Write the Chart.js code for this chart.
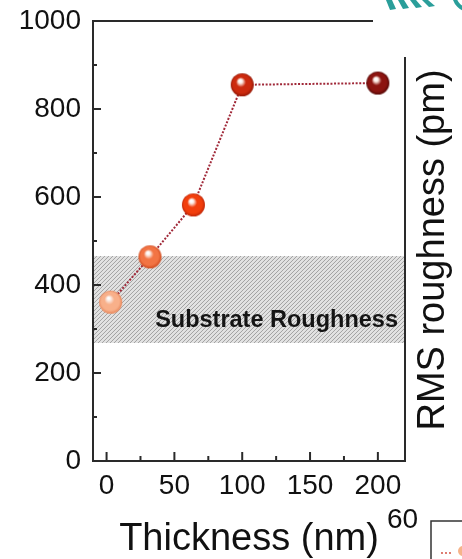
<!DOCTYPE html>
<html>
<head>
<meta charset="utf-8">
<script src="https://cdn.jsdelivr.net/npm/chart.js@4"></script>
<style>
  html, body { margin: 0; padding: 0; background: #fff; }
  #wrap { width: 462px; height: 559px; }
</style>
</head>
<body>
<div id="wrap"><canvas id="c" width="462" height="559"></canvas></div>
<script>
// ---- data ----
const thickness = [3, 32, 64, 100, 200];          // nm
const roughness = [361, 464, 582, 855, 859];      // pm
const xTicks = [0, 50, 100, 150, 200];
const xMinorTicks = [25, 75, 125, 175];
const yTicks = [0, 200, 400, 600, 800, 1000];
const yMinorTicks = [100, 300, 500, 700, 900];
const substrateBand = [268, 466];                  // pm
const bandLabel = 'Substrate Roughness';
const xTitle = 'Thickness (nm)';
const yTitle = 'RMS roughness (pm)';
const strayLabel = '60';

// ---- styles ----
const sphereColors = ['#f8b08a', '#f27444', '#f23e0c', '#cc2a0e', '#8c1410'];
const sphereDark   = ['#e8865a', '#d04a1e', '#c02606', '#941604', '#560806'];
const FONT = '"Liberation Sans", Arial, sans-serif';

function sphere(color, dark, r) {
  const s = Math.ceil(r * 2 + 2);
  const c = document.createElement('canvas');
  c.width = s; c.height = s;
  const g = c.getContext('2d');
  const cx = s / 2, cy = s / 2;
  const grad = g.createRadialGradient(cx - r * 0.18, cy - r * 0.35, r * 0.08, cx, cy, r);
  grad.addColorStop(0, '#ffffff');
  grad.addColorStop(0.12, '#fbe8e0');
  grad.addColorStop(0.38, color);
  grad.addColorStop(0.78, color);
  grad.addColorStop(1, dark);
  g.fillStyle = grad;
  g.beginPath(); g.arc(cx, cy, r, 0, Math.PI * 2); g.fill();
  return c;
}
const sphereImgs = sphereColors.map((c, i) => sphere(c, sphereDark[i], 11.5));

const decor = {
  id: 'decor',
  beforeDatasetsDraw(chart) {
    const { ctx, chartArea: a, scales: { x, y } } = chart;
    const top = y.getPixelForValue(substrateBand[1]);
    const bot = y.getPixelForValue(substrateBand[0]);
    ctx.save();
    ctx.beginPath();
    ctx.rect(a.left + 1, top, a.right - a.left - 1, bot - top);
    ctx.clip();
    ctx.fillStyle = '#e2e2e2';
    ctx.fillRect(a.left, top, a.right - a.left, bot - top);
    ctx.strokeStyle = '#a2a2a2';
    ctx.lineWidth = 1;
    const h = bot - top;
    for (let sx = a.left - h; sx < a.right + h; sx += 4) {
      ctx.beginPath();
      ctx.moveTo(sx, bot);
      ctx.lineTo(sx + h, top);
      ctx.stroke();
    }
    ctx.restore();
    // band label
    ctx.save();
    ctx.fillStyle = '#141414';
    ctx.font = 'bold 23.5px ' + FONT;
    ctx.textAlign = 'right';
    ctx.textBaseline = 'alphabetic';
    ctx.fillText(bandLabel, a.right - 7, y.getPixelForValue(305));
    ctx.restore();
  },
  afterDraw(chart) {
    const { ctx, chartArea: a, scales: { x, y } } = chart;
    ctx.save();
    ctx.strokeStyle = '#2a2a2a';
    ctx.lineWidth = 2;
    // top and right frame
    ctx.beginPath();
    ctx.moveTo(a.left, a.top); ctx.lineTo(a.right, a.top); ctx.lineTo(a.right, a.bottom);
    ctx.stroke();
    // inward ticks
    const tick = (x1, y1, x2, y2) => { ctx.beginPath(); ctx.moveTo(x1, y1); ctx.lineTo(x2, y2); ctx.stroke(); };
    xTicks.forEach(v => { const px = x.getPixelForValue(v); tick(px, a.bottom, px, a.bottom - 9); });
    xMinorTicks.forEach(v => { const px = x.getPixelForValue(v); tick(px, a.bottom, px, a.bottom - 5); });
    yTicks.forEach(v => { const py = y.getPixelForValue(v); tick(a.left, py, a.left + 8, py); });
    yMinorTicks.forEach(v => { const py = y.getPixelForValue(v); tick(a.left, py, a.left + 4, py); });
    // mask top-right corner (panel overlap)
    ctx.fillStyle = '#ffffff';
    ctx.fillRect(373, 0, 89, 57);
    // teal decoration
    ctx.fillStyle = '#2a9e9a';
    for (let i = 0; i < 4; i++) {
      const bx = 386 + i * 12;
      ctx.beginPath();
      ctx.moveTo(bx, 0); ctx.lineTo(bx + 6, 0); ctx.lineTo(bx + 10 + i, 9 - i); ctx.lineTo(bx + 4 + i, 10 - i);
      ctx.closePath(); ctx.fill();
    }
    ctx.beginPath();
    ctx.strokeStyle = '#2a9e9a'; ctx.lineWidth = 4;
    ctx.arc(470, -6, 16, Math.PI * 0.55, Math.PI * 0.95);
    ctx.stroke();
    // axis titles
    ctx.fillStyle = '#111';
    ctx.font = '38px ' + FONT;
    ctx.textAlign = 'center';
    ctx.textBaseline = 'alphabetic';
    ctx.fillText(xTitle, 249, 550);
    ctx.save();
    ctx.translate(444, 250);
    ctx.rotate(-Math.PI / 2);
    ctx.fillText(yTitle, 0, 0);
    ctx.restore();
    // stray label and neighbour panel
    ctx.font = '28px ' + FONT;
    ctx.textAlign = 'left';
    ctx.fillText(strayLabel, 387, 528);
    ctx.strokeStyle = '#333'; ctx.lineWidth = 1.5;
    ctx.beginPath(); ctx.moveTo(431, 565); ctx.lineTo(431, 521); ctx.lineTo(470, 521); ctx.stroke();
    ctx.fillStyle = '#d04030';
    [442, 446, 450].forEach(dx => { ctx.beginPath(); ctx.arc(dx, 553, 0.9, 0, Math.PI * 2); ctx.fill(); });
    ctx.fillStyle = '#f6b48a';
    ctx.beginPath(); ctx.arc(463, 551, 5, 0, Math.PI * 2); ctx.fill();
    ctx.restore();
  }
};

const zeroPad = s => { s.paddingTop = 0; s.paddingBottom = 0; s.paddingLeft = 0; s.paddingRight = 0; };
const tickFont = { family: FONT, size: 28 };
new Chart(document.getElementById('c'), {
  type: 'scatter',
  data: {
    datasets: [{
      data: thickness.map((t, i) => ({ x: t, y: roughness[i] })),
      showLine: true,
      borderColor: '#a02838',
      borderWidth: 2,
      borderDash: [2, 1.6],
      pointStyle: sphereImgs,
      pointRadius: 11.5,
      pointHoverRadius: 11.5,
      backgroundColor: sphereColors,
      tension: 0
    }]
  },
  options: {
    responsive: false,
    animation: false,
    devicePixelRatio: 1,
    events: [],
    layout: { padding: { top: 21, left: 0, right: 0, bottom: 0 } },
    plugins: { legend: { display: false }, tooltip: { enabled: false } },
    scales: {
      x: {
        type: 'linear', position: 'bottom', min: -10, max: 220,
        afterBuildTicks: s => { s.ticks = xTicks.map(v => ({ value: v })); },
        afterFit: s => { s.height = 98; zeroPad(s); },
        grid: { display: false, drawTicks: false },
        border: { display: true, color: '#2a2a2a', width: 2 },
        ticks: { color: '#111', font: tickFont, padding: 8, maxRotation: 0, callback: v => String(v) }
      },
      y: {
        type: 'linear', position: 'left', min: 0, max: 1000,
        afterBuildTicks: s => { s.ticks = yTicks.map(v => ({ value: v })); },
        afterFit: s => { s.width = 93; zeroPad(s); },
        grid: { display: false, drawTicks: false },
        border: { display: true, color: '#2a2a2a', width: 2 },
        ticks: { color: '#111', font: tickFont, padding: 12, callback: v => String(v) }
      },
      y2: {
        type: 'linear', position: 'right', min: 0, max: 1000,
        afterFit: s => { s.width = 57; zeroPad(s); },
        grid: { display: false, drawTicks: false },
        border: { display: false },
        ticks: { display: false }
      }
    }
  },
  plugins: [decor]
});
</script>
</body>
</html>
